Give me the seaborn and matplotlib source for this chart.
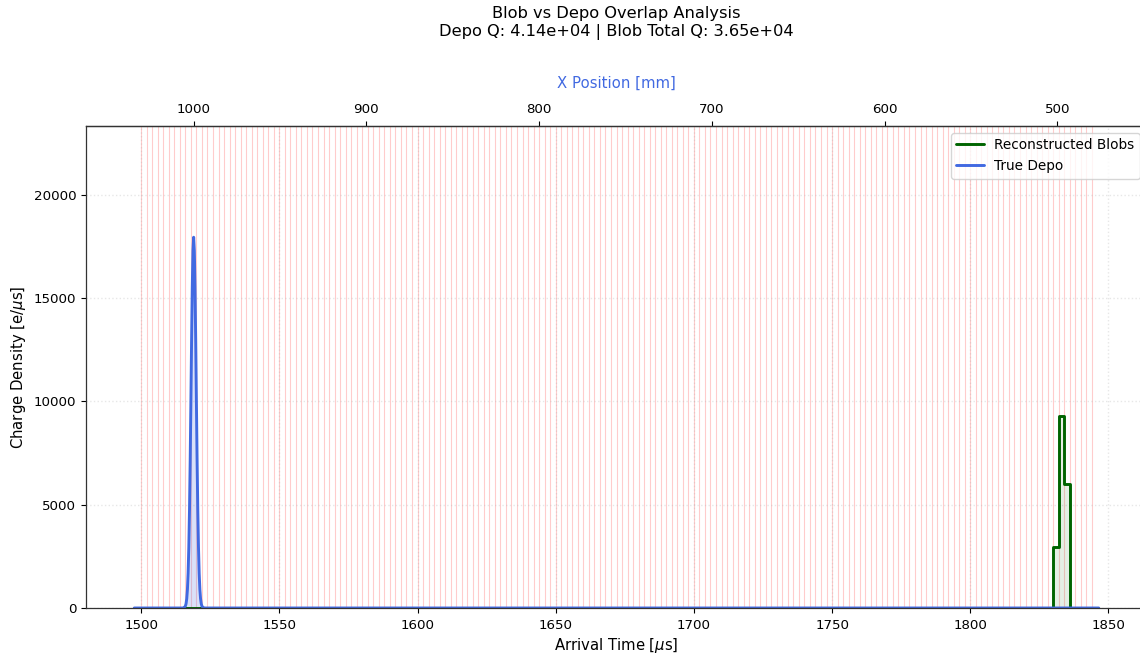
import numpy as np
import pandas as pd
import matplotlib
matplotlib.use("Agg")
import matplotlib.pyplot as plt
import seaborn as sns

# True depo charge density along arrival time [us] -> [e/us]
depo_time = [1497.5, 1515.0, 1515.5, 1516.0, 1516.25, 1516.5, 1516.75, 1517.0,
             1517.25, 1517.5, 1517.75, 1518.0, 1518.25, 1518.5, 1518.75, 1519.0,
             1519.25, 1519.5, 1519.75, 1520.0, 1520.25, 1520.5, 1520.75, 1521.0,
             1521.25, 1521.5, 1521.75, 1522.0, 1522.5, 1523.0, 1846.5]
depo_density = [0, 0, 13, 88, 205, 450, 900, 1685,
                2940, 4750, 7130, 9950, 12880, 15480, 17300, 17950,
                17300, 15480, 12880, 9950, 7130, 4750, 2940, 1685,
                900, 450, 205, 88, 13, 0, 0]

# Time slicing of the readout
slice_start = 1500.0
slice_width = 2.0
n_slices = 172

# Reconstructed blob charge density per slice (slices not listed are empty)
blob_slice_start = [1830.0, 1832.0, 1834.0]
blob_density = [2950, 9300, 6000]

# Drift: x [mm] = drift_speed * (t_ref - t)
drift_speed = 1.6      # mm/us
t_ref = 2144.0         # us

edges = slice_start + slice_width * np.arange(n_slices + 1)
slice_vals = np.zeros(n_slices)
for t0, q in zip(blob_slice_start, blob_density):
    slice_vals[int(round((t0 - slice_start) / slice_width))] = q
blob_df = pd.DataFrame({"t": edges, "q": np.append(slice_vals, slice_vals[-1])})
depo_df = pd.DataFrame({"t": depo_time, "q": depo_density})

depo_q = np.trapezoid(depo_df["q"], depo_df["t"])
blob_q = float(np.sum(blob_density) * slice_width)

sns.set_theme(style="ticks", rc={
    "xtick.major.size": 3.5, "ytick.major.size": 3.5,
    "xtick.major.pad": 4.5, "ytick.major.pad": 3.5,
    "xtick.major.width": 0.8, "ytick.major.width": 0.8,
    "axes.linewidth": 0.9,
    "text.color": "black", "axes.labelcolor": "black",
    "xtick.color": "black", "ytick.color": "black",
    "axes.edgecolor": "#333333",
})
plt.rcParams["font.family"] = ["DejaVu Sans"]

fig = plt.figure(figsize=(11.4, 6.54), dpi=100)
ax = fig.add_axes([86 / 1140, 46 / 654, 1061 / 1140, 482 / 654])

for e in edges:
    ax.axvline(e, color="red", alpha=0.2, linewidth=0.8, zorder=0)

sns.lineplot(data=blob_df, x="t", y="q", ax=ax, drawstyle="steps-post",
             color="darkgreen", linewidth=2.1, label="Reconstructed Blobs",
             estimator=None, sort=False)
ax.fill_between(blob_df["t"], blob_df["q"], step="post", color="darkgreen",
                alpha=0.1, linewidth=0)

sns.lineplot(data=depo_df, x="t", y="q", ax=ax, color="royalblue",
             linewidth=2.1, label="True Depo", estimator=None, sort=False)
ax.fill_between(depo_df["t"], depo_df["q"], color="royalblue", alpha=0.2,
                linewidth=0)

ax.set_ylim(0, 1.3 * max(depo_density))
ax.set_xlabel("Arrival Time [$\\mu$s]", fontsize=10.7, labelpad=3)
ax.set_ylabel("Charge Density [e/$\\mu$s]", fontsize=10.7)
ax.tick_params(labelsize=9.6)
ax.grid(True, linestyle=":", color="#b0b0b0", alpha=0.3)

sec = ax.secondary_xaxis(
    "top",
    functions=(lambda t: drift_speed * (t_ref - t),
               lambda x: t_ref - x / drift_speed),
)
sec.set_xlabel("X Position [mm]", color="royalblue", fontsize=10.7, labelpad=11)
sec.tick_params(labelsize=9.6, pad=3.5)

ax.legend(loc="upper right", fontsize=9.8)
ax.set_title(f"Blob vs Depo Overlap Analysis\n"
             f"Depo Q: {depo_q:.2e} | Blob Total Q: {blob_q:.2e}",
             fontsize=11.7, pad=29)

fig.savefig("out.png", dpi=100)
